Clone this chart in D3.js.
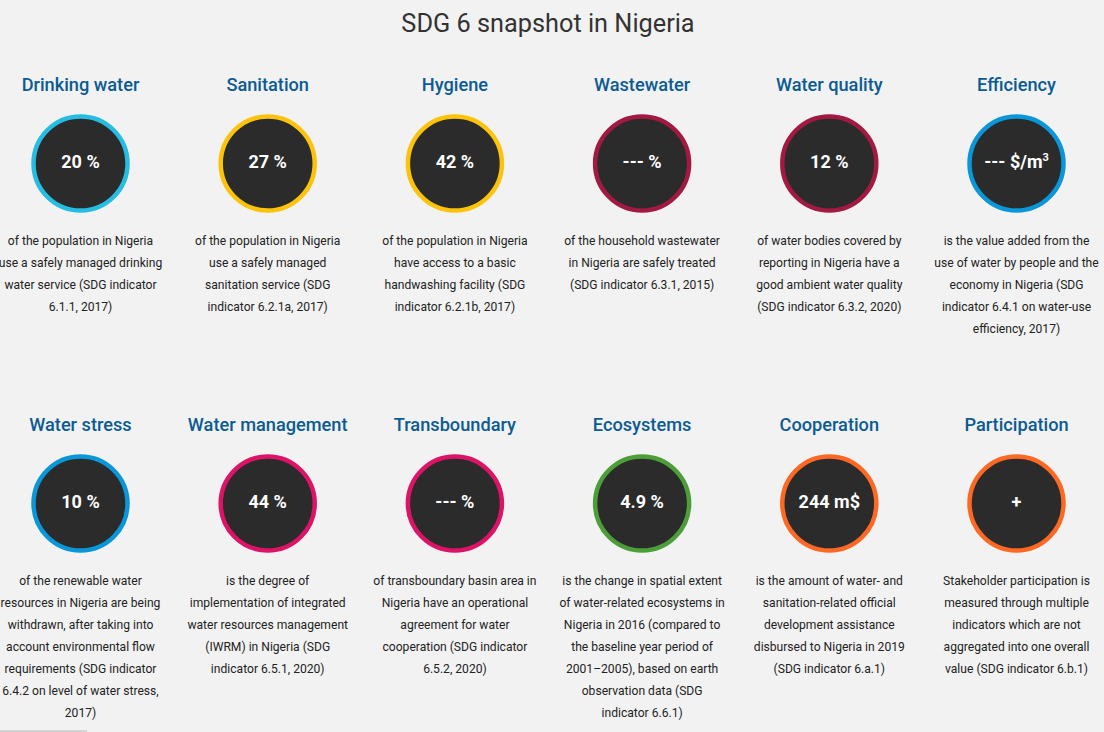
<!DOCTYPE html>
<html><head><meta charset="utf-8">
<script src="https://cdn.jsdelivr.net/npm/d3@7"></script>
<style>
html,body{margin:0;padding:0;background:#f2f2f2;overflow:hidden;}
svg{display:block;font-family:Roboto,"Noto Sans",sans-serif;}
</style></head>
<body>
<svg id="chart" width="1104" height="732"></svg>
<script>
const chartTitle = "SDG 6 snapshot in Nigeria";
const categories = ["Drinking water","Sanitation","Hygiene","Wastewater","Water quality","Efficiency",
  "Water stress","Water management","Transboundary","Ecosystems","Cooperation","Participation"];
const valueLabels = ["20 %","27 %","42 %","--- %","12 %","--- $/m",
  "10 %","44 %","--- %","4.9 %","244 m$","+"];
const valueSuperscripts = ["","","","","","3","","","","","",""];
const targetGroups = ["6.1","6.2","6.2","6.3","6.3","6.4","6.4","6.5","6.5","6.6","6.a","6.a"];
const descriptions = [
  ["of the population in Nigeria","use a safely managed drinking","water service (SDG indicator","6.1.1, 2017)"],
  ["of the population in Nigeria","use a safely managed","sanitation service (SDG","indicator 6.2.1a, 2017)"],
  ["of the population in Nigeria","have access to a basic","handwashing facility (SDG","indicator 6.2.1b, 2017)"],
  ["of the household wastewater","in Nigeria are safely treated","(SDG indicator 6.3.1, 2015)"],
  ["of water bodies covered by","reporting in Nigeria have a","good ambient water quality","(SDG indicator 6.3.2, 2020)"],
  ["is the value added from the","use of water by people and the","economy in Nigeria (SDG","indicator 6.4.1 on water-use","efficiency, 2017)"],
  ["of the renewable water","resources in Nigeria are being","withdrawn, after taking into","account environmental flow","requirements (SDG indicator","6.4.2 on level of water stress,","2017)"],
  ["is the degree of","implementation of integrated","water resources management","(IWRM) in Nigeria (SDG","indicator 6.5.1, 2020)"],
  ["of transboundary basin area in","Nigeria have an operational","agreement for water","cooperation (SDG indicator","6.5.2, 2020)"],
  ["is the change in spatial extent","of water-related ecosystems in","Nigeria in 2016 (compared to","the baseline year period of","2001\u20132005), based on earth","observation data (SDG","indicator 6.6.1)"],
  ["is the amount of water- and","sanitation-related official","development assistance","disbursed to Nigeria in 2019","(SDG indicator 6.a.1)"],
  ["Stakeholder participation is","measured through multiple","indicators which are not","aggregated into one overall","value (SDG indicator 6.b.1)"]
];
const groupDomain = ["6.1","6.2","6.3","6.4","6.5","6.6","6.a"];

const W = 1104, H = 732;
const svg = d3.select("#chart");
svg.append("rect").attr("width",W).attr("height",H).attr("fill","#f2f2f2");

const color = d3.scaleOrdinal().domain(groupDomain)
  .range(["#26bde2","#fcc30b","#a21942","#0a97d9","#dd1367","#4c9f38","#fd6925"]);
const x = d3.scalePoint().domain(d3.range(6)).range([80.5, 1016.5]);
const rowY = d3.scalePoint().domain([0,1]).range([0, 340]);

svg.append("text").attr("x",548).attr("y",32).attr("text-anchor","middle")
  .attr("font-size",25.3).attr("fill","#333").text(chartTitle);

const items = categories.map((c,i)=>({title:c,value:valueLabels[i],sup:valueSuperscripts[i],
  group:targetGroups[i],desc:descriptions[i],col:i%6,row:Math.floor(i/6)}));

const g = svg.selectAll("g.item").data(items).join("g").attr("class","item")
  .attr("transform",d=>`translate(${x(d.col)},${rowY(d.row)})`);

g.append("text").attr("x",0).attr("y",91).attr("text-anchor","middle")
  .attr("font-size",18.2).attr("font-weight",500).attr("fill","#0b5b92").text(d=>d.title);

g.append("circle").attr("cx",0).attr("cy",163.5).attr("r",47)
  .attr("fill","#2b2b2b").attr("stroke",d=>color(d.group)).attr("stroke-width",4.5);

const vt = g.append("text").attr("x",0).attr("y",168).attr("text-anchor","middle")
  .attr("font-size",18).attr("font-weight",700).attr("fill","#fff");
vt.append("tspan").text(d=>d.value);
vt.filter(d=>d.sup).append("tspan").attr("dy",-7).attr("font-size",11).text(d=>d.sup);

g.append("text").attr("text-anchor","middle").attr("font-size",12.1).attr("fill","#222")
  .selectAll("tspan").data(d=>d.desc).join("tspan")
  .attr("x",0).attr("y",(d,i)=>245+22*i).text(d=>d);

svg.append("line").attr("x1",0).attr("x2",87).attr("y1",731).attr("y2",731)
  .attr("stroke","#c8c8c8").attr("stroke-width",1.5);
</script>
</body></html>
